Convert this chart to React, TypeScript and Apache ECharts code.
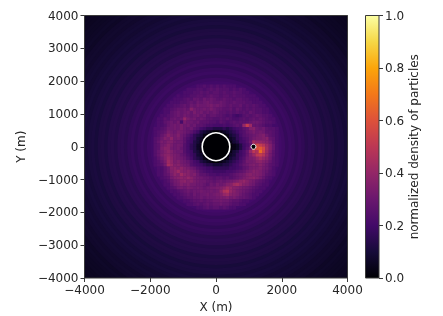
import React, { useEffect, useRef } from "react";
import * as echarts from "echarts";

const barLabel = "normalized density of particles";
const inferno = ["#000004", "#160b39", "#420a68", "#6a176e", "#932667", "#bc3754", "#dd513a", "#f37819", "#fca50a", "#f6d746", "#fcffa4"];

// Far-field density, ring radius (m) and value, outermost first
const ringRadii = [5700, 5600, 5500, 5400, 5300, 5200, 5100, 5000, 4900, 4800, 4700, 4600, 4500, 4400, 4300, 4200, 4100, 4000, 3900, 3800, 3700, 3600, 3500, 3400, 3300, 3200, 3100, 3000, 2900, 2800, 2700, 2600, 2500, 2400, 2300, 2200, 2100, 2000];
const ringValues = [0.045, 0.05, 0.055, 0.055, 0.06, 0.06, 0.065, 0.07, 0.065, 0.075, 0.08, 0.075, 0.085, 0.09, 0.085, 0.095, 0.102, 0.095, 0.106, 0.112, 0.102, 0.118, 0.122, 0.112, 0.13, 0.135, 0.125, 0.145, 0.15, 0.14, 0.16, 0.17, 0.155, 0.175, 0.185, 0.17, 0.19, 0.2];

// Density that each digit of nearRows stands for
const nearLevels = [0, 0.03, 0.06, 0.09, 0.125, 0.16, 0.19, 0.21, 0.225, 0.245, 0.265, 0.285, 0.305, 0.32, 0.335, 0.35, 0.365, 0.38, 0.4, 0.42, 0.44, 0.46, 0.48, 0.5, 0.52, 0.54, 0.56, 0.58, 0.6, 0.62, 0.66, 0.7];

// Near-field density, 100 m cells from (-2000, 2000); one base-36 digit per cell
const nearRows = [
  "........................................",
  "..............889898989888..............",
  "...........8889989a9a99989898...........",
  "..........88899a9a9aa9a99a9988..........",
  "........878899aa9abaa9aa9a999888........",
  ".......8889a9bbacbcbaabaa9aa99888.......",
  "......88899abacbcdcbbcbaabaaa99888......",
  ".....8899abacbdccdecdcbabaab9a9a988.....",
  "....889abbcbgdccdcecbbaab9ba9a9a9988....",
  "....88abcbcdbecdbcbcbaa9a9a9a9ba9988....",
  "...889abcbdcbcdbcabbaa9897679a9aba998...",
  "..88a9bcbciecdbcbaa99a9a9889a9ababa988..",
  "..88abcbd7eccbcaaa998a989a9aaabccba998..",
  "..889bcdcecdbcaa9887778789a9ioj" + "bba988..",
  ".889accdcecbca97655444545678abfgcbca998.",
  ".89abedcedcba8643210012345689bcecdcaa98.",
  ".89bdgedfcb975431000000134579abcdefca98.",
  ".9acfehdeca8653200000000235689bdeefgba8.",
  ".9bedffdcca7643100000000134679ckiihgda8.",
  ".9adegecdc97542100000000012468alqomjfb8.",
  ".9aeggdcdb97542100000000012469cqrtqkfb8.",
  ".9bdfhfdcc9764310000000013468binlupjea8.",
  ".9beghfedba865320000000023568bfjnomida8.",
  ".8acfigedcb975431000000134579cefikigc98.",
  ".89bejhefdcb9764321001234568addeghfeb98.",
  ".89adkifgedc9876544333445679bcefegeca98.",
  "..88acghfhfecb98766555556678abdeefdca8..",
  "..88acfhjgfgedb987766667789abdegfecb98..",
  "..88abehfjhgefcaa98878889abcdfgffeca98..",
  "...89adfghgigedcbba9aa9a9abcefghfdb98...",
  "....89bdeghfgedccbbabcbcdefhigedba98....",
  "....88acdfefddccbacbdcdfgjkigfdca988....",
  ".....89acdcedcdcbcddefhjigfedcba988.....",
  "......889abcbccdccdcdhlmigedcba988......",
  ".......889abacbccdcdefijgfecba988.......",
  "........889aabbcbcccdeefdecbba98........",
  "..........889aababbccdccbaa988..........",
  "...........889a9ababbcbba9988...........",
  "..............889a9aa9a988..............",
  "........................................",
];

// Central body and moon: x, y, radius (m)
const hole = [0, 0, 420];
const moon = [1140, 0, 75];

const densityColor = (v: number) => echarts.color.lerp(Math.min(1, v), inferno) as string;

const ringData = ringRadii.map((r, i) => [r, 0, ringValues[i]]);
const cellData: number[][] = [];
nearRows.forEach((row, j) => {
  row.split("").forEach((ch, i) => {
    if (ch !== ".") cellData.push([-1950 + 100 * i, 1950 - 100 * j, nearLevels[parseInt(ch, 36)]]);
  });
});

const FONT = "DejaVu Sans";
const INK = "#262626";
const EDGE = "#3a3a3a";

function valueAxisCommon() {
  return {
    type: "value" as const,
    z: 10,
    axisLine: { show: false, onZero: false },
    splitLine: { show: false },
    axisTick: { show: true, length: 4, lineStyle: { color: EDGE, width: 1 } },
    axisLabel: {
      color: INK,
      fontFamily: FONT,
      fontSize: 12,
      margin: 6,
      hideOverlap: false,
      showMinLabel: true,
      showMaxLabel: true,
      formatter: (v: number) => String(v).replace("-", "\u2212"),
    },
    nameTextStyle: { color: INK, fontFamily: FONT, fontSize: 12 },
    nameLocation: "middle" as const,
  };
}

export default function App() {
  const ref = useRef<HTMLDivElement>(null);
  useEffect(() => {
    const chart = echarts.init(ref.current!, undefined, { renderer: "svg" });
    chart.setOption({
      animation: false,
      backgroundColor: "#ffffff",
      grid: [
        { left: 84.5, top: 15.5, width: 263, height: 262.5, outerBoundsMode: "none" },
        { left: 365.5, top: 15.5, width: 13.5, height: 262.5, outerBoundsMode: "none" },
      ],
      xAxis: [
        {
          ...valueAxisCommon(),
          gridIndex: 0,
          min: -4000,
          max: 4000,
          interval: 2000,
          name: "X (m)",
          nameGap: 21,
        },
        { type: "value", gridIndex: 1, min: 0, max: 1, show: false },
      ],
      yAxis: [
        {
          ...valueAxisCommon(),
          gridIndex: 0,
          min: -4000,
          max: 4000,
          interval: 1000,
          name: "Y (m)",
          nameGap: 50,
        },
        {
          ...valueAxisCommon(),
          gridIndex: 1,
          position: "right",
          min: 0,
          max: 1,
          interval: 0.2,
          name: barLabel,
          nameRotate: 90,
          nameGap: 28,
          axisLabel: {
            ...valueAxisCommon().axisLabel,
            formatter: (v: number) => v.toFixed(1),
          },
        },
      ],
      series: [
        {
          type: "custom",
          name: "rings",
          xAxisIndex: 0,
          yAxisIndex: 0,
          clip: true,
          silent: true,
          data: ringData,
          encode: { x: 0, y: 1 },
          renderItem: (_p: any, api: any) => {
            const c = api.coord([0, 0]);
            const r = api.size([api.value(0), 0])[0];
            return { type: "circle", shape: { cx: c[0], cy: c[1], r }, style: { fill: densityColor(api.value(2)) } };
          },
        },
        {
          type: "custom",
          name: "cells",
          xAxisIndex: 0,
          yAxisIndex: 0,
          clip: true,
          silent: true,
          data: cellData,
          encode: { x: 0, y: 1 },
          renderItem: (_p: any, api: any) => {
            const c = api.coord([api.value(0) - 50, api.value(1) + 50]);
            const s = api.size([100, 100]);
            return {
              type: "rect",
              shape: { x: c[0], y: c[1], width: s[0] + 0.3, height: s[1] + 0.3 },
              style: { fill: densityColor(api.value(2)) },
            };
          },
        },
        {
          type: "custom",
          name: "bodies",
          xAxisIndex: 0,
          yAxisIndex: 0,
          silent: true,
          data: [hole, moon],
          encode: { x: 0, y: 1 },
          renderItem: (p: any, api: any) => {
            const c = api.coord([api.value(0), api.value(1)]);
            const r = api.size([api.value(2), 0])[0];
            return {
              type: "circle",
              shape: { cx: c[0], cy: c[1], r },
              style: { fill: "#000004", stroke: "#ffffff", lineWidth: p.dataIndex === 0 ? 1.6 : 1 },
            };
          },
        },
        {
          type: "custom",
          name: "frame",
          xAxisIndex: 0,
          yAxisIndex: 0,
          clip: false,
          silent: true,
          z: 11,
          data: [[-4000, 4000]],
          encode: { x: 0, y: 1 },
          renderItem: (_p: any, api: any) => {
            const a = api.coord([-4000, 4000]);
            const b = api.coord([4000, -4000]);
            return {
              type: "rect",
              shape: { x: a[0], y: a[1], width: b[0] - a[0], height: b[1] - a[1] },
              style: { fill: "none", stroke: EDGE, lineWidth: 1 },
            };
          },
        },
        {
          type: "custom",
          name: "colorbar",
          xAxisIndex: 1,
          yAxisIndex: 1,
          clip: false,
          silent: true,
          data: [[0, 1]],
          encode: { x: 0, y: 1 },
          renderItem: (_p: any, api: any) => {
            const a = api.coord([0, 1]);
            const b = api.coord([1, 0]);
            return {
              type: "rect",
              shape: { x: a[0], y: a[1], width: b[0] - a[0], height: b[1] - a[1] },
              style: {
                fill: new echarts.graphic.LinearGradient(
                  0, 1, 0, 0,
                  inferno.map((color, i) => ({ offset: i / (inferno.length - 1), color }))
                ),
                stroke: EDGE,
                lineWidth: 1,
              },
            };
          },
        },
      ],
    });
    return () => chart.dispose();
  }, []);
  return (
    <div
      ref={ref}
      style={{ position: "fixed", left: 0, top: 0, width: 443, height: 316, filter: "blur(0.45px)" }}
    />
  );
}
